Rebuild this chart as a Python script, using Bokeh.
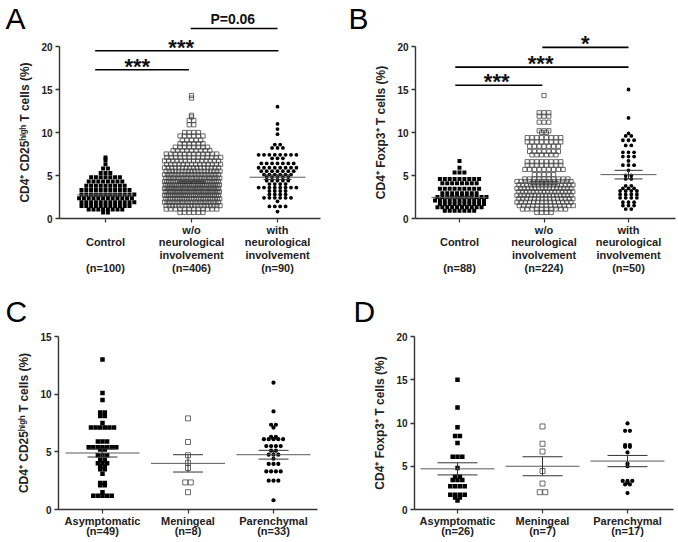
import numpy as np
from bokeh.plotting import figure
from bokeh.layouts import column, row
from bokeh.models import Range1d, FixedTicker, LinearAxis
from bokeh.core.properties import value
from bokeh.embed import file_html
from bokeh.resources import INLINE

FONT = "Liberation Sans"

# ---------------- Panel A : CD4+ CD25high T cells (%) ----------------
A_tick_labels = ["\nControl\n\n(n=100)",
                 "w/o\nneurological\ninvolvement\n(n=406)",
                 "with\nneurological\ninvolvement\n(n=90)"]
A_ctrl_levels = [7.1, 6.8, 6.3, 5.8, 5.3, 4.8, 4.3, 3.8, 3.3, 2.8, 2.35, 1.9, 1.45, 1.05, 0.7]
A_ctrl_counts = [1, 1, 1, 2, 3, 7, 8, 9, 11, 12, 12, 12, 11, 8, 2]
A_wo_levels = [14.3, 14.0, 12.0, 11.8, 11.4, 10.9, 10.0, 9.6, 9.1, 8.7, 8.3, 7.9, 7.5, 7.1, 6.7,
               6.3, 5.9, 5.5, 5.1, 4.7, 4.3, 3.9, 3.5, 3.1, 2.7, 2.3, 1.9, 1.5, 1.1, 0.7]
A_wo_counts = [1, 1, 1, 1, 2, 2, 4, 6, 5, 6, 8, 9, 12, 13, 14,
               14, 16, 18, 20, 22, 26, 30, 32, 32, 29, 24, 22, 18, 12, 6]
A_with_levels = [13.0, 11.0, 10.4, 9.8, 8.6, 8.2, 7.4, 7.0, 6.4, 5.9, 5.5, 5.1, 4.8, 4.4, 4.0,
                 3.6, 3.2, 2.8, 2.4, 2.0, 1.4, 0.8]
A_with_counts = [1, 1, 1, 1, 2, 3, 8, 3, 7, 8, 7, 6, 5, 5, 4, 8, 4, 4, 6, 1, 4, 1]
A_means = [2.75, 4.2, 4.8]
A_sems = [0.13, 0.12, 0.27]
A_sig_x0 = [0.88, 0.88, 1.99]
A_sig_x1 = [1.97, 3.01, 3.00]
A_sig_y = [17.3, 19.5, 22.1]
A_sig_text = ["***", "***", "P=0.06"]
A_sig_tx = [1.37, 1.88, 2.48]

# ---------------- Panel B : CD4+ Foxp3+ T cells (%) ----------------
B_tick_labels = ["\nControl\n\n(n=88)",
                 "w/o\nneurological\ninvolvement\n(n=224)",
                 "with\nneurological\ninvolvement\n(n=50)"]
B_ctrl_levels = [6.7, 5.9, 5.35, 4.6, 4.1, 3.45, 2.95, 2.5, 2.1, 1.7, 1.3, 0.9]
B_ctrl_counts = [1, 1, 3, 9, 8, 9, 8, 11, 11, 10, 10, 7]
B_wo_levels = [14.3, 12.3, 11.9, 11.2, 10.2, 10.0, 9.4, 8.9, 8.4, 7.8, 7.4, 6.6, 6.2, 5.7, 5.1,
               4.6, 4.3, 3.9, 3.5, 3.1, 2.7, 2.3, 1.9, 1.5, 1.1, 0.7]
B_wo_counts = [1, 3, 3, 3, 3, 2, 8, 8, 7, 7, 6, 8, 8, 9, 5,
               10, 14, 15, 16, 16, 16, 15, 14, 13, 10, 4]
B_with_levels = [15.0, 11.7, 9.9, 9.6, 9.1, 8.5, 7.7, 7.2, 6.7, 6.2, 5.6, 5.0, 4.6,
                 3.8, 3.5, 3.2, 2.8, 2.4, 1.9, 1.5, 1.1]
B_with_counts = [1, 1, 1, 2, 3, 2, 3, 3, 1, 3, 1, 2, 2, 2, 3, 4, 4, 4, 3, 3, 2]
B_means = [2.45, 4.1, 5.1]
B_sems = [0.13, 0.18, 0.5]
B_sig_x0 = [0.95, 0.95, 1.98]
B_sig_x1 = [1.98, 3.00, 3.00]
B_sig_y = [15.5, 17.6, 19.9]
B_sig_text = ["***", "***", "*"]
B_sig_tx = [1.44, 1.96, 2.49]

# ---------------- Panel C : CD4+ CD25high, by neurological form ----------------
C_tick_labels = ["Asymptomatic\n(n=49)", "Meningeal\n(n=8)", "Parenchymal\n(n=33)"]
C_asym_levels = [13.0, 10.1, 9.5, 8.4, 8.1, 7.5, 7.1, 5.9, 5.4, 5.2, 4.7, 4.3, 4.0, 3.7, 3.5,
                 3.1, 2.3, 2.1, 1.5, 1.2]
C_asym_counts = [1, 1, 1, 2, 2, 1, 6, 3, 7, 2, 3, 2, 3, 2, 2, 1, 2, 2, 1, 5]
C_men_levels = [7.9, 5.85, 4.7, 4.05, 3.6, 2.35, 1.5]
C_men_counts = [1, 1, 1, 1, 1, 2, 1]
C_par_levels = [11.0, 8.5, 7.35, 7.1, 6.3, 6.1, 5.5, 5.1, 4.75, 4.4, 3.95, 3.3, 2.5, 0.8]
C_par_counts = [1, 1, 2, 1, 2, 5, 4, 2, 3, 1, 3, 4, 3, 1]
C_means = [4.9, 4.0, 4.75]
C_sems = [0.35, 0.75, 0.38]

# ---------------- Panel D : CD4+ Foxp3+, by neurological form ----------------
D_tick_labels = ["Asymptomatic\n(n=26)", "Meningeal\n(n=7)", "Parenchymal\n(n=17)"]
D_asym_levels = [15.0, 11.8, 9.5, 8.5, 7.7, 6.1, 4.8, 3.8, 3.4, 2.7, 1.7, 1.4, 1.05]
D_asym_counts = [1, 1, 1, 2, 1, 3, 1, 2, 3, 4, 4, 2, 1]
D_men_levels = [9.6, 7.6, 6.7, 4.45, 3.0, 2.0]
D_men_counts = [1, 1, 1, 1, 1, 2]
D_par_levels = [9.95, 9.1, 7.45, 7.25, 6.6, 5.3, 5.0, 3.3, 3.1, 2.9, 1.9]
D_par_counts = [1, 2, 2, 2, 1, 1, 1, 3, 1, 2, 1]
D_means = [4.7, 5.0, 5.6]
D_sems = [0.7, 1.1, 0.65]

YLAB_CD25 = "CD4\u207a CD25\u02b0\u2071\u1d4d\u02b0 T cells (%)"
YLAB_FOXP3 = "CD4\u207a Foxp3\u207a T cells (%)"


class Geom:
    """Pixel geometry of one panel canvas -> data ranges."""
    def __init__(self, w, h, cat1, cat3, axl, axr, y0, ytop_px, ytop_val):
        self.w, self.h = w, h
        self.ppx = (cat3 - cat1) / 2.0
        self.xs = 1 - cat1 / self.ppx
        self.xe = self.xs + w / self.ppx
        self.ppy = (y0 - ytop_px) / float(ytop_val)
        self.ys = -(h - y0) / self.ppy
        self.ye = y0 / self.ppy
        self.xb = (self.X(axl), self.X(axr))
        self.ytop = ytop_val

    def X(self, px):
        return self.xs + px / self.ppx

    def Y(self, py):
        return self.ye - py / self.ppy


def make_fig(g, yticks, ylabel, tick_labels, xlab_lh):
    p = figure(width=g.w, height=g.h, x_range=Range1d(g.xs, g.xe), y_range=Range1d(g.ys, g.ye),
               min_border=0, toolbar_location=None, tools="", output_backend="svg",
               x_axis_type=None, y_axis_type=None)
    p.outline_line_color = None
    p.background_fill_color = "white"
    p.border_fill_color = "white"
    ya = LinearAxis(fixed_location=g.xb[0], bounds=(0, g.ytop),
                    ticker=FixedTicker(ticks=yticks), axis_label=ylabel)
    ya.minor_tick_line_color = None
    ya.major_tick_out = 4
    ya.major_tick_in = 0
    ya.axis_line_width = 1.4
    ya.major_tick_line_width = 1.4
    ya.axis_line_color = "#333333"
    ya.major_tick_line_color = "#333333"
    ya.major_label_text_font = FONT
    ya.major_label_text_font_style = "bold"
    ya.major_label_text_font_size = "10px"
    ya.major_label_text_color = "#222222"
    ya.major_label_standoff = 3
    ya.axis_label_text_font = FONT
    ya.axis_label_text_font_style = "bold"
    ya.axis_label_text_font_size = "12px"
    ya.axis_label_text_color = "#222222"
    ya.axis_label_standoff = 6
    p.add_layout(ya, "left")
    xa = LinearAxis(fixed_location=0, bounds=g.xb, ticker=FixedTicker(ticks=[1, 2, 3]))
    xa.major_label_overrides = {i + 1: t for i, t in enumerate(tick_labels)}
    xa.minor_tick_line_color = None
    xa.major_tick_out = 4
    xa.major_tick_in = 0
    xa.axis_line_width = 1.4
    xa.major_tick_line_width = 1.2
    xa.axis_line_color = "#333333"
    xa.major_tick_line_color = "#333333"
    xa.major_label_text_font = FONT
    xa.major_label_text_font_style = "bold"
    xa.major_label_text_font_size = "11px"
    xa.major_label_text_line_height = xlab_lh
    xa.major_label_text_color = "#222222"
    xa.major_label_standoff = 1
    p.add_layout(xa, "below")
    return p


def swarm(levels, counts, center, pitch_px, maxw_px, ppx):
    xs, ys = [], []
    for r, (v, c) in enumerate(zip(levels, counts)):
        pitch = pitch_px
        if c > 1 and (c - 1) * pitch > maxw_px:
            pitch = maxw_px / (c - 1)
        shift = 0.5 * pitch if (c >= 10 and r % 2 == 1) else 0.0
        for i in range(c):
            xs.append(center + ((i - (c - 1) / 2.0) * pitch + shift) / ppx)
            ys.append(v)
    return xs, ys


def draw_groups(p, g, groups, maxw):
    for gi, (lv, ct, kind, size, pitch) in enumerate(groups):
        xs, ys = swarm(lv, ct, gi + 1, pitch, maxw, g.ppx)
        if kind == "sq":
            p.scatter(xs, ys, marker="square", size=size, fill_color="black", line_color=None)
        elif kind == "open":
            p.scatter(xs, ys, marker="square", size=size, fill_color=None,
                      line_color="#454545", line_width=0.8)
        else:
            p.scatter(xs, ys, marker="circle", size=size, fill_color="black", line_color=None)


def draw_mean_sem(p, g, means, sems, mean_hw, sem_hw):
    cs = [1, 2, 3]
    ppx = g.ppx
    p.segment(x0=[c - mean_hw / ppx for c in cs], x1=[c + mean_hw / ppx for c in cs],
              y0=means, y1=means, line_color="#5a5a5a", line_width=1)
    for sgn in (1, -1):
        yy = [m + sgn * s for m, s in zip(means, sems)]
        p.segment(x0=[c - sem_hw / ppx for c in cs], x1=[c + sem_hw / ppx for c in cs],
                  y0=yy, y1=yy, line_color="#333333", line_width=1)
    p.segment(x0=cs, x1=cs, y0=[m - s for m, s in zip(means, sems)],
              y1=[m + s for m, s in zip(means, sems)], line_color="#333333", line_width=1)


def draw_sig(p, g, x0, x1, y, texts, tx):
    p.segment(x0=x0, x1=x1, y0=y, y1=y, line_color="black", line_width=1.6)
    for xx, yy, t in zip(tx, y, texts):
        if t.startswith("*"):
            p.text(x=[xx], y=[yy + 3.5 / g.ppy], text=[t], text_font=value(FONT),
                   text_font_style="bold", text_font_size="22px", text_align="center",
                   text_baseline="alphabetic", text_color="#111111")
        else:
            p.text(x=[xx], y=[yy + 9.0 / g.ppy], text=[t], text_font=value(FONT),
                   text_font_style="bold", text_font_size="14px", text_align="center",
                   text_baseline="alphabetic", text_color="#111111")


def letter(p, g, txt, px, py):
    p.text(x=[g.X(px)], y=[g.Y(py)], text=[txt], text_font=value(FONT),
           text_font_size="30px", text_color="black", text_align="left",
           text_baseline="alphabetic")


# ---- A ----
gA = Geom(339, 296, 105, 277, 59, 320, 218, 46, 20)
pA = make_fig(gA, [0, 5, 10, 15, 20], YLAB_CD25, A_tick_labels, 1.07)
draw_groups(pA, gA, [(A_ctrl_levels, A_ctrl_counts, "sq", 4, 4.8),
                     (A_wo_levels, A_wo_counts, "open", 4.2, 4.6),
                     (A_with_levels, A_with_counts, "dot", 3.8, 5.4)], 54)
draw_mean_sem(pA, gA, A_means, A_sems, 28, 14)
draw_sig(pA, gA, A_sig_x0, A_sig_x1, A_sig_y, A_sig_text, A_sig_tx)
letter(pA, gA, "A", 5, 18)

# ---- B ----
gB = Geom(339, 296, 120, 289, 76, 336, 218, 46, 20)
pB = make_fig(gB, [0, 5, 10, 15, 20], YLAB_FOXP3, B_tick_labels, 1.07)
draw_groups(pB, gB, [(B_ctrl_levels, B_ctrl_counts, "sq", 4, 4.9),
                     (B_wo_levels, B_wo_counts, "open", 4.2, 4.8),
                     (B_with_levels, B_with_counts, "dot", 3.8, 5.6)], 54)
draw_mean_sem(pB, gB, B_means, B_sems, 28, 14)
draw_sig(pB, gB, B_sig_x0, B_sig_x1, B_sig_y, B_sig_text, B_sig_tx)
letter(pB, gB, "B", 9, 18)

# ---- C ----
gC = Geom(339, 245, 102, 273, 58, 317, 213, 40, 15)
pC = make_fig(gC, [0, 5, 10, 15], YLAB_CD25, C_tick_labels, 0.9)
draw_groups(pC, gC, [(C_asym_levels, C_asym_counts, "sq", 4.5, 4.6),
                     (C_men_levels, C_men_counts, "open", 5, 5.5),
                     (C_par_levels, C_par_counts, "dot", 4.2, 4.8)], 54)
draw_mean_sem(pC, gC, C_means, C_sems, 37, 15)
letter(pC, gC, "C", 5, 15)

# ---- D ----
gD = Geom(338, 245, 118, 288, 75, 334, 213, 40, 20)
pD = make_fig(gD, [0, 5, 10, 15, 20], YLAB_FOXP3, D_tick_labels, 0.9)
draw_groups(pD, gD, [(D_asym_levels, D_asym_counts, "sq", 4.5, 4.8),
                     (D_men_levels, D_men_counts, "open", 5, 5.5),
                     (D_par_levels, D_par_counts, "dot", 4.2, 4.8)], 54)
draw_mean_sem(pD, gD, D_means, D_sems, 37, 20)
letter(pD, gD, "D", 14, 15)

layout = column(row(pA, pB), row(pC, pD))
open("out.html", "w").write(file_html(layout, INLINE))
